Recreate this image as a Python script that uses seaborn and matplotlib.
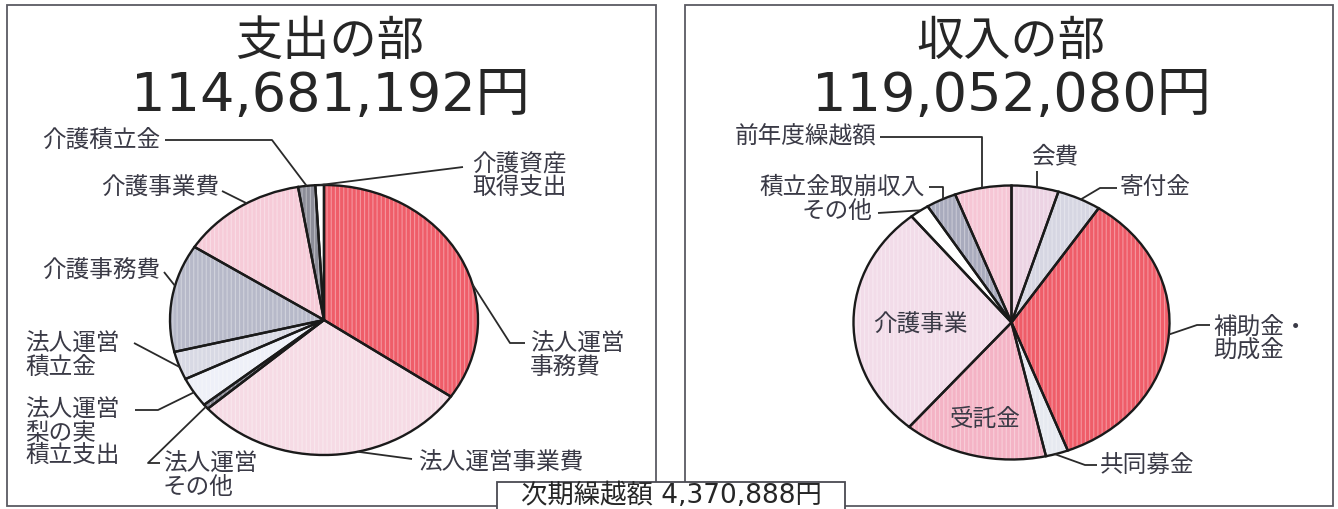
import numpy as np
import matplotlib
matplotlib.use("Agg")
import matplotlib.pyplot as plt
import matplotlib.colors as mcolors
from matplotlib.patches import Rectangle
import seaborn as sns

# ---- data (share of each item, %) ----
exp_labels = ["法人運営\n事務費", "法人運営事業費", "法人運営\nその他", "法人運営\n梨の実\n積立支出",
              "法人運営\n積立金", "介護事務費", "介護事業費", "介護積立金", "介護資産\n取得支出"]
exp_values = [34.6, 29.0, 0.6, 3.6, 3.4, 12.9, 13.2, 1.8, 0.9]
exp_colors = ["#ef5d69", "#f6dbe5", "#8a8a96", "#eef0f8", "#d8d9e4",
              "#b7b9c9", "#f6cbd8", "#8d8e99", "#ffffff"]
exp_title = "支出の部"
exp_total = "114,681,192円"

inc_labels = ["会費", "寄付金", "補助金・\n助成金", "共同募金", "受託金",
              "介護事業", "その他", "積立金取崩収入", "前年度繰越額"]
inc_values = [4.8, 4.5, 34.9, 2.3, 14.7, 27.9, 2.0, 3.1, 5.8]
inc_colors = ["#ecd3e3", "#d6d6e2", "#ef5d69", "#e6e9f0", "#f4b3c5",
              "#f2dce9", "#ffffff", "#a9abbd", "#f6c6d5"]
inc_title = "収入の部"
inc_total = "119,052,080円"

carry_label = "次期繰越額"
carry_total = "4,370,888円"

W, H = 1338, 509
TXT = "#3a3a46"
NUM_FONT = ['DejaVu Sans', 'Noto Sans CJK JP']

sns.set_theme(style="white")
plt.rcParams['font.family'] = ['Noto Sans CJK JP', 'DejaVu Sans']
plt.rcParams['hatch.linewidth'] = 0.8

# label layout: (x, y, ha, leader points, anchor fraction in wedge, elbow)
exp_layout = [
    (530, 356, "left", [(525, 343), (510, 343)], 0.60, False),
    (418, 463, "left", [(412, 459)], 0.41, False),
    (163, 476, "left", [(160, 463), (148, 463)], 0.5, False),
    (25, 433, "left", [(135, 410), (158, 410)], 0.5, False),
    (25, 356, "left", [(134, 343)], 0.45, False),
    (160, 270, "right", [(164, 272)], 0.61, False),
    (219, 188, "right", [(222, 191)], 0.57, False),
    (160, 140, "right", [(165, 140), (272, 140)], 0.5, False),
    (472, 176, "left", [(463, 167)], 0.5, False),
]
inc_layout = [
    (1055, 157, "center", [], 0.54, "v"),
    (1120, 187, "left", [(1117, 188), (1100, 188)], 0.54, False),
    (1213, 339, "left", [(1210, 325), (1197, 325)], 0.49, False),
    (1100, 465, "left", [(1097, 465), (1085, 465)], 0.59, False),
    (985, 420, "center", None, 0, False),
    (920, 325, "center", None, 0, False),
    (872, 212, "right", [(878, 213)], 0.59, False),
    (925, 187, "right", [(929, 187)], 0.57, "h"),
    (876, 137, "right", [(880, 137)], 0.48, "h"),
]


def lighten(c, amt=0.35):
    r, g, b = mcolors.to_rgb(c)
    return (r + (1 - r) * amt, g + (1 - g) * amt, b + (1 - b) * amt)


def draw_pie(fig, cx, cy, rx, ry, values, colors):
    pad = 1.04
    ax = fig.add_axes([(cx - rx * pad) / W, 1 - (cy + ry * pad) / H,
                       2 * rx * pad / W, 2 * ry * pad / H])
    wedges, _ = ax.pie(values, colors=colors, startangle=90, counterclock=False,
                       wedgeprops=dict(linewidth=0))
    for wd, c in zip(wedges, colors):
        wd.set_hatch('||||')
        wd.set_edgecolor(lighten(c))
    ax.pie(values, colors=['none'] * len(values), startangle=90, counterclock=False,
           wedgeprops=dict(linewidth=1.7, edgecolor='#1a1a1a'))
    ax.set_xlim(-pad, pad)
    ax.set_ylim(-pad, pad)
    ax.set_aspect('auto')
    ax.axis('off')
    return ax, wedges


def wedge_point(ax_pie, main, wedge, frac):
    ang = np.deg2rad(wedge.theta2 - frac * (wedge.theta2 - wedge.theta1))
    p = ax_pie.transData.transform((np.cos(ang), np.sin(ang)))
    return main.transData.inverted().transform(p)


def draw_labels(main, ax_pie, wedges, labels, layout):
    for wd, lab, (x, y, ha, pts, frac, elbow) in zip(wedges, labels, layout):
        main.text(x, y, lab, ha=ha, va='center', fontsize=17, color=TXT,
                  linespacing=0.98)
        if pts is None:
            continue
        ax_, ay_ = wedge_point(ax_pie, main, wd, frac)
        path = list(pts)
        if elbow == "h":
            path.append((ax_, pts[0][1]))
        elif elbow == "v":
            path = [(ax_, y + 14)]
        path.append((ax_, ay_))
        xs, ys = zip(*path)
        main.plot(xs, ys, color='#2a2a2a', lw=1.3, solid_capstyle='butt')


fig = plt.figure(figsize=(W / 100, H / 100), dpi=100)

ax_e, w_e = draw_pie(fig, 324, 320, 154, 135, exp_values, exp_colors)
ax_i, w_i = draw_pie(fig, 1011.5, 322.5, 158, 137, inc_values, inc_colors)

# overlay axes in pixel coordinates for frames, titles and labels
main = fig.add_axes([0, 0, 1, 1])
main.set_xlim(0, W)
main.set_ylim(H, 0)
main.axis('off')

# panel frames
for x0, x1 in [(7, 656), (685, 1333)]:
    main.add_patch(Rectangle((x0, 5), x1 - x0, 501, fill=False, ec='#5a5a62', lw=1.3))

# titles
for cx, t1, t2 in [(330, exp_title, exp_total), (1011, inc_title, inc_total)]:
    main.text(cx, 42, t1, ha='center', va='center', fontsize=34, color='#262626')
    main.text(cx, 96, t2, ha='center', va='center', fontsize=39, color='#262626',
              family=NUM_FONT)

draw_labels(main, ax_e, w_e, exp_labels, exp_layout)
draw_labels(main, ax_i, w_i, inc_labels, inc_layout)

# carry-over box at the bottom
main.add_patch(Rectangle((497, 482), 348, 40, fc='white', ec='#4a4a52', lw=1.3, zorder=5))
main.text(671, 503, carry_label + " " + carry_total, ha='center', va='baseline',
          fontsize=19, color='#262626', zorder=6, family=NUM_FONT)

fig.savefig("out.png", dpi=100)
